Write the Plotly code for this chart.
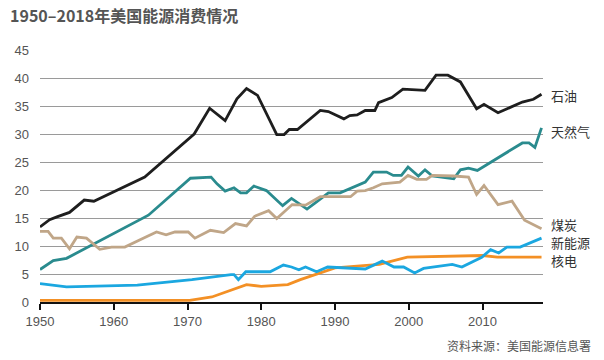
import plotly.graph_objects as go

# ---- data (quadrillion Btu) ----
oil_years = [1950, 1951.3, 1952.3, 1954, 1956, 1957.3, 1964.2, 1970.9, 1973, 1975.1, 1976.7, 1978, 1979.5,
             1982.1, 1983.1, 1983.8, 1984.9, 1988, 1989.1, 1991.2, 1992, 1993, 1994.1, 1995.4, 1995.9,
             1997.7, 1999.2, 2002.2, 2003.7, 2005.3, 2007, 2009.2, 2010.2, 2012.1, 2015.4, 2016.9, 2018]
oil_vals = [13.4, 14.7, 15.2, 16.0, 18.2, 18.0, 22.3, 30.0, 34.6, 32.4, 36.3, 38.1, 36.9,
            29.9, 29.9, 30.8, 30.8, 34.2, 34.0, 32.7, 33.3, 33.4, 34.2, 34.2, 35.6,
            36.5, 38.0, 37.8, 40.5, 40.5, 39.3, 34.5, 35.3, 33.8, 35.7, 36.2, 37.1]

gas_years = [1950, 1951.8, 1953.6, 1964.7, 1970.4, 1973.2, 1974, 1975.1, 1976.3, 1977.2, 1978, 1979,
             1980.7, 1982.9, 1984.1, 1985.1, 1986.2, 1987.5, 1989.1, 1990.7, 1994.1, 1995.2, 1997,
             1997.9, 1999, 1999.9, 2001.3, 2002.2, 2003.2, 2006.1, 2007, 2008.1, 2009.3, 2015.4,
             2016.3, 2017.1, 2018]
gas_vals = [5.8, 7.4, 7.8, 15.5, 22.1, 22.3, 21.1, 19.8, 20.4, 19.5, 19.5, 20.7,
            19.9, 17.2, 18.5, 17.6, 16.6, 17.9, 19.5, 19.5, 21.4, 23.2, 23.2,
            22.6, 22.6, 24.1, 22.5, 23.6, 22.5, 22.0, 23.6, 23.9, 23.5, 28.4,
            28.4, 27.6, 31.1]

coal_years = [1950, 1951.1, 1951.8, 1952.9, 1954, 1955, 1956.3, 1958.1, 1959.7, 1961.5, 1964, 1965.8,
              1967.1, 1968.3, 1970.1, 1971, 1973.1, 1974.9, 1976.5, 1978, 1979.1, 1981, 1982.1,
              1984.2, 1986, 1988, 1992.1, 1993, 1994.1, 1995.2, 1996.4, 1998.8, 1999.9, 2001.1,
              2002.4, 2003.2, 2006.1, 2008.1, 2009.2, 2010.2, 2012.1, 2014, 2015.7, 2018]
coal_vals = [12.6, 12.6, 11.4, 11.4, 9.5, 11.6, 11.4, 9.4, 9.8, 9.8, 11.4, 12.5,
             12.0, 12.5, 12.5, 11.4, 12.8, 12.4, 14.0, 13.6, 15.3, 16.3, 14.9,
             17.4, 17.3, 18.8, 18.8, 19.8, 19.9, 20.4, 21.1, 21.4, 22.6, 21.9,
             21.9, 22.6, 22.5, 22.3, 19.2, 20.8, 17.4, 18.0, 14.6, 13.1]

ren_years = [1950, 1953.6, 1963.2, 1970.6, 1975.9, 1976.3, 1976.9, 1977.9, 1981.2, 1983, 1984.1,
             1985.1, 1986, 1987.5, 1989, 1994.1, 1996.4, 1998, 1999.3, 2000.8, 2002, 2005.9,
             2007.2, 2009.9, 2011.1, 2012.2, 2013.3, 2015.1, 2018]
ren_vals = [3.3, 2.7, 3.0, 4.0, 4.9, 4.9, 4.0, 5.4, 5.4, 6.6, 6.25,
            5.75, 6.25, 5.4, 6.25, 5.9, 7.3, 6.25, 6.25, 5.2, 6.0, 6.7,
            6.25, 8.0, 9.35, 8.75, 9.8, 9.8, 11.4]

nuc_years = [1950, 1970.3, 1973.3, 1976.2, 1978, 1980, 1983.6, 1985.3, 1990, 1996, 1999.8, 2010, 2012, 2018]
nuc_vals = [0.3, 0.3, 0.9, 2.3, 3.1, 2.8, 3.1, 4.0, 6.1, 6.7, 8.0, 8.3, 8.0, 8.0]

x_ticks = [1950, 1960, 1970, 1980, 1990, 2000, 2010]
y_ticks = [0, 5, 10, 15, 20, 25, 30, 35, 40, 45]

labels = ["石油", "天然气", "煤炭", "新能源", "核电"]
label_y = [36.9, 30.5, 13.8, 10.55, 7.35]

title_text = "1950–2018年美国能源消费情况"
source_text = "资料来源：美国能源信息署"

FONT = "Liberation Sans, Arial, Noto Sans CJK SC, sans-serif"
CJK = "Noto Sans CJK SC, Liberation Sans, sans-serif"

W, H = 604, 360
L, R, T, B = 40, 61, 50, 58
PW, PH = W - L - R, H - T - B

fig = go.Figure()
series = [
    (gas_years, gas_vals, "#2a8b8e"),
    (coal_years, coal_vals, "#c0a688"),
    (nuc_years, nuc_vals, "#f39025"),
    (ren_years, ren_vals, "#1ba7e0"),
    (oil_years, oil_vals, "#1e1e1e"),
]
for xs, ys, c in series:
    fig.add_trace(go.Scatter(x=xs, y=ys, mode="lines",
                             line=dict(color=c, width=2.8, shape="linear"),
                             hoverinfo="skip", showlegend=False, cliponaxis=False))

# right-side series labels (paper x, data y)
for t, yv in zip(labels, label_y):
    fig.add_annotation(x=1 + 7 / PW, y=yv / 45, xref="paper", yref="paper", text=t, showarrow=False,
                       xanchor="left", yanchor="middle", borderpad=0,
                       font=dict(family=CJK, size=13, color="#333333"))

fig.add_annotation(x=(593 - L) / PW, y=-(345 - (H - B)) / PH, xref="paper", yref="paper",
                   text=source_text, showarrow=False, xanchor="right", yanchor="middle",
                   font=dict(family=CJK, size=12, color="#555555"))

fig.update_layout(
    width=W, height=H,
    margin=dict(l=L, r=R, t=T, b=B, autoexpand=False),
    paper_bgcolor="white", plot_bgcolor="white",
    title=dict(text="<b>" + title_text + "</b>", x=10 / W, xanchor="left", xref="container",
               y=1 - 16 / H, yanchor="middle", yref="container",
               font=dict(family=CJK, size=16, color="#555555")),
    xaxis=dict(range=[1950, 2018.2], tickvals=x_ticks, ticktext=[str(v) for v in x_ticks],
               showgrid=False, zeroline=False, showline=True, linecolor="#111111", linewidth=2,
               ticks="outside", ticklen=6, tickwidth=1.5, tickcolor="#111111",
               tickfont=dict(family=FONT, size=13, color="#555555")),
    yaxis=dict(range=[0, 45], tickvals=y_ticks, showgrid=True, gridcolor="#9a9a9a", gridwidth=1,
               zeroline=False, showline=False, ticks="", ticklabelstandoff=10,
               tickfont=dict(family=FONT, size=13, color="#555555")),
)

fig.write_html("out.html", config={"displayModeBar": False},
               post_script="document.body.style.margin='0';")
